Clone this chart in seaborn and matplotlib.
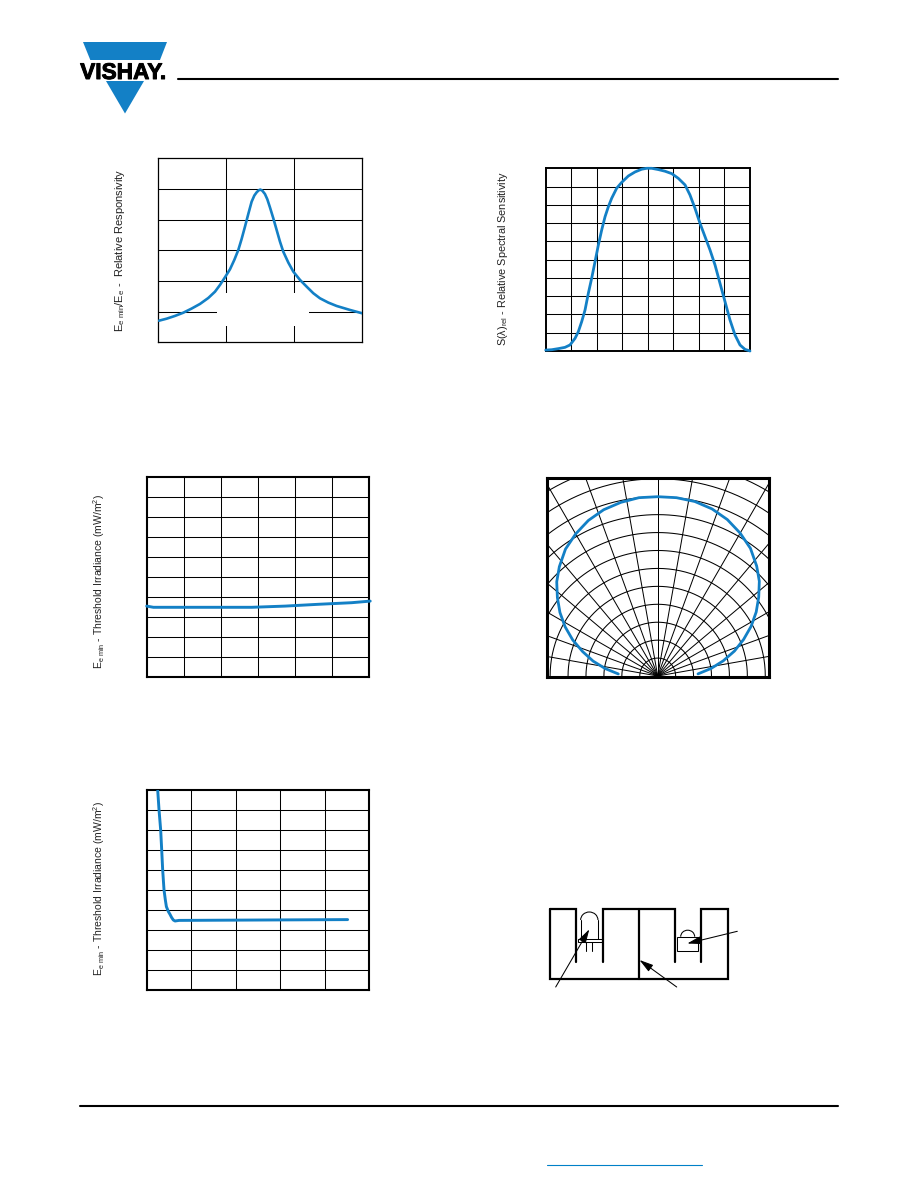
import numpy as np
import matplotlib
matplotlib.use("Agg")
import matplotlib.pyplot as plt
import matplotlib.patheffects as pe
from matplotlib.patches import Polygon, Rectangle, Arc
import seaborn as sns

W, H = 918, 1188
BLUE = "#1380C6"

# Panel 1: relative responsivity vs f/f0
resp_f = [.702, .7245, .749, .7735, .798, .8225, .847, .8667, .8814, .8961, .9108, .9235, .9353,
          .9451, .9549, .9647, .9745, .9824, .9892, .9951, 1.0, 1.0059, 1.0137, 1.0206, 1.0284,
          1.0382, 1.048, 1.0578, 1.0676, 1.0824, 1.0971, 1.1167, 1.1363, 1.1559, 1.1755, 1.2,
          1.2245, 1.2637, 1.30]
resp_v = [.141, .154, .172, .193, .220, .25, .289, .330, .374, .424, .476, .537, .602,
          .674, .754, .837, .917, .957, .978, .991, .996, .989, .967, .933, .880,
          .809, .733, .657, .591, .520, .461, .407, .363, .320, .287, .259,
          .237, .211, .189]
# Panel 2: spectral sensitivity
spec_nm = [750, 761.7, 774.8, 787.8, 797.6, 807.4, 813.9, 820.5, 827, 833.5, 840, 846.6, 853.1,
           859.6, 866.2, 872.7, 879.2, 889, 898.8, 911.8, 924.9, 937.9, 947.7, 957.5, 970.6,
           983.6, 996.7, 1009.7, 1022.8, 1032.5, 1042.3, 1052.1, 1061.9, 1071.7, 1081.5,
           1091.3, 1101.1, 1110.8, 1120.6, 1130.4, 1140.2, 1150]
spec_v = [.005, .007, .013, .020, .033, .069, .106, .161, .224, .316, .398, .489, .580,
          .662, .735, .790, .836, .891, .923, .958, .980, .995, 1, 1, .993,
          .984, .971, .945, .909, .854, .781, .699, .626, .553, .471,
          .370, .270, .170, .088, .033, .009, 0]
# Panel 3: threshold irradiance vs temperature
temp_c = [-30, -26.4, -9.3, 8.6, 26.6, 44.6, 62.5, 80.5, 90.5]
temp_e = [.353, .347, .347, .347, .347, .353, .362, .370, .378]
# Panel 4: threshold irradiance vs second variable
dist_x = [.247, .277, .314, .337, .359, .389, .404, .419, .442, .487, .524, .561, .598, .636, .726, 4.513]
dist_e = [1.0, .9, .8, .7, .6, .5, .475, .45, .417, .392, .378, .362, .35, .345, .348, .352]
# Panel 5: directivity
ang_deg = [-87, -82, -77, -72, -67, -62, -57, -52, -47, -42, -36, -30, -24, -18, -12, -6, 0,
           6, 12, 18, 24, 30, 36, 42, 47, 52, 57, 62, 67, 72, 77, 82, 87]
ang_r = [.22, .295, .37, .44, .515, .585, .65, .71, .77, .82, .875, .915, .95, .975, .99, 1.0, 1.0,
         1.0, .995, .98, .955, .92, .88, .825, .775, .715, .655, .59, .52, .45, .375, .30, .225]
# Axis text
label_resp = r"E$_{e\ min}$/E$_e$ -  Relative Responsivity"
label_spec = r"S($\lambda$)$_{rel}$ - Relative Spectral Sensitivity"
label_thr = r"E$_{e\ min}$ - Threshold Irradiance (mW/m$^2$)"
logo_text = "VISHAY."

sns.set_theme(style="white")
plt.rcParams.update({
    "font.family": ["Liberation Sans", "DejaVu Sans"],
    "mathtext.fontset": "custom",
    "mathtext.rm": "Liberation Sans",
    "mathtext.it": "Liberation Sans",
    "mathtext.bf": "Liberation Sans:bold",
})

fig = plt.figure(figsize=(W / 100, H / 100), dpi=100, facecolor="white")


def panel(box, xlim, ylim, xt, yt, frame, gridw=0.75):
    l, t, r, b = box
    ax = fig.add_axes([l / W, 1 - b / H, (r - l) / W, (b - t) / H])
    ax.set_xlim(*xlim)
    ax.set_ylim(*ylim)
    ax.set_xticks(xt)
    ax.set_yticks(yt)
    ax.tick_params(length=0, labelleft=False, labelbottom=False)
    ax.grid(True, color="black", linewidth=gridw)
    ax.set_axisbelow(True)
    for s in ax.spines.values():
        s.set_color("black")
        s.set_linewidth(frame)
    return ax


def curve(ax, x, y, lw, clip=True):
    sns.lineplot(x=x, y=y, ax=ax, sort=False, estimator=None, color=BLUE,
                 linewidth=lw, legend=False, clip_on=clip, zorder=3)
    ax.set_xlabel("")
    ax.set_ylabel("")


def ylabel(text, px, py, size):
    fig.text(px / W, 1 - py / H, text, rotation=90, ha="center", va="center",
             fontsize=size, color="#222222")


# Panel 1
a1 = panel((158.3, 158.3, 362.3, 342.3), (0.7, 1.3), (0, 1.2),
           [0.9, 1.1], [0.2, 0.4, 0.6, 0.8, 1.0], 0.9)
a1.add_patch(Rectangle((0.8716, 0.1065), 0.2714, 0.2131, fc="white", ec="none", zorder=1))
curve(a1, resp_f, resp_v, 1.9)
ylabel(label_resp, 120, 250, 8.0)

# Panel 2
a2 = panel((545.7, 168.3, 750, 351), (750, 1150), (0, 1),
           np.arange(800, 1150, 50), np.arange(0.1, 1, 0.1), 1.4)
curve(a2, spec_nm, spec_v, 2.0, clip=False)
ylabel(label_spec, 503, 259, 7.8)

# Panel 3
a3 = panel((146.7, 476.7, 369.3, 676.7), (-30, 90), (0, 1),
           np.arange(-10, 90, 20), np.arange(0.1, 1, 0.1), 1.5)
curve(a3, temp_c, temp_e, 2.1, clip=False)
ylabel(label_thr, 99, 581, 7.5)

# Panel 4
a4 = panel((146.7, 790, 369.3, 990), (0, 5), (0, 1),
           [1, 2, 3, 4], np.arange(0.1, 1, 0.1), 1.5)
curve(a4, dist_x, dist_e, 2.1)
ylabel(label_thr, 99, 888, 7.5)

# Panel 5: directivity diagram (grid of arcs and spokes in a cropped frame)
cx, cy, rpx = 657.7, 676.0, 179.3
a5 = panel((547.3, 477.7, 768.7, 677.3),
           ((547.3 - cx) / rpx, (768.7 - cx) / rpx), ((cy - 677.3) / rpx, (cy - 477.7) / rpx),
           [], [], 2.2)
a5.grid(False)
arc_t = np.radians(np.arange(-90, 91, 1))
for rr in np.arange(0.1, 1.21, 0.1):
    a5.plot(rr * np.sin(arc_t), rr * np.cos(arc_t), color="black", lw=0.75, zorder=1)
for deg in range(-90, 91, 10):
    t = np.radians(deg)
    a5.plot([0, 1.4 * np.sin(t)], [0, 1.4 * np.cos(t)], color="black", lw=0.72, zorder=1)
th = np.radians(ang_deg)
curve(a5, np.array(ang_r) * np.sin(th), np.array(ang_r) * np.cos(th), 2.0)

# Page furniture in pixel coordinates
pg = fig.add_axes([0, 0, 1, 1], zorder=5)
pg.set_xlim(0, W)
pg.set_ylim(H, 0)
pg.axis("off")
pg.patch.set_alpha(0)
pg.add_patch(Polygon([(83, 42), (167, 42), (160, 60), (90.3, 60)], fc=BLUE, ec="none"))
pg.add_patch(Polygon([(106, 81), (144, 81), (125, 113.5)], fc=BLUE, ec="none"))
pg.text(123, 79, logo_text, fontsize=16.3, fontweight="bold", ha="center", va="baseline",
        color="black", family=["Liberation Sans"],
        path_effects=[pe.withStroke(linewidth=0.7, foreground="black")])
pg.plot([178, 838], [79, 79], color="black", lw=1.5)
pg.plot([80, 838], [1106, 1106], color="black", lw=1.5)
pg.plot([546.7, 702], [1165.3, 1165.3], color="#0080C8", lw=0.8)

# Sensor test-fixture schematic
walls = [
    ([550, 576, 576], [909, 909, 961.7]),
    ([550, 550, 728.3, 728.3, 701, 701], [909, 979, 979, 909, 909, 961.7]),
    ([603, 603, 675.3, 675.3], [961.7, 909, 909, 961.7]),
    ([639, 639], [909, 979]),
]
for xs, ys in walls:
    pg.plot(xs, ys, color="black", lw=1.6, solid_joinstyle="miter")
thin = dict(color="black", lw=0.75)
pg.plot([580.7, 580.7], [939.3, 920], **thin)
pg.plot([598, 598], [939.3, 920], **thin)
pg.add_patch(Arc((589.3, 920), 17.3, 16, theta1=180, theta2=360, color="black", lw=0.75))
pg.add_patch(Rectangle((578.3, 939.3), 23.4, 3, fc="white", ec="black", lw=0.75))
pg.plot([585.7, 585.7], [942.3, 951.3], **thin)
pg.plot([592.3, 592.3], [942.3, 951.3], **thin)
pg.add_patch(Rectangle((677.3, 936.7), 20.3, 14, fc="white", ec="black", lw=0.75))
pg.add_patch(Arc((687.7, 936.7), 14, 13, theta1=180, theta2=360, color="black", lw=0.75))


def arrow(start, tip):
    pg.annotate("", xy=tip, xytext=start,
                arrowprops=dict(arrowstyle="-|>,head_width=0.2,head_length=0.7",
                                color="black", lw=0.75, shrinkA=0, shrinkB=0))


arrow((555.7, 987), (589.3, 929.3))
arrow((737.3, 931.3), (687.3, 943.5))
arrow((676.7, 987), (639.5, 960))

fig.savefig("out.png", dpi=100, facecolor="white")
